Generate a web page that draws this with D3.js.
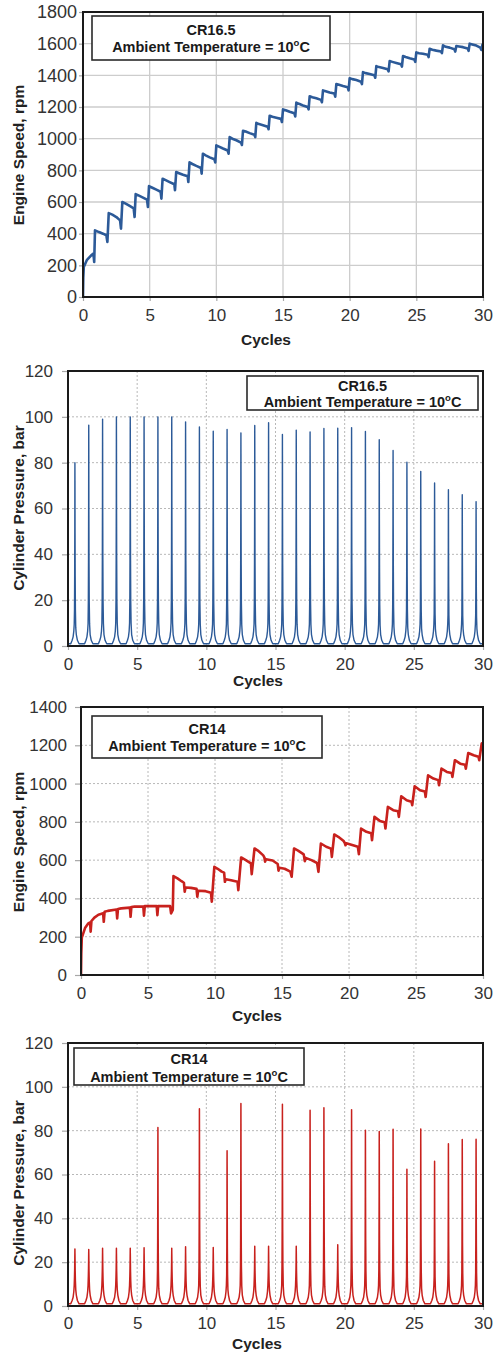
<!DOCTYPE html>
<html>
<head>
<meta charset="utf-8">
<script src="https://cdn.jsdelivr.net/npm/d3@7"></script>
<style>
  html, body { margin: 0; padding: 0; background: #fff; }
  svg { display: block; font-family: "Liberation Sans", Arial, sans-serif; }
</style>
</head>
<body>
<svg id="chart" width="500" height="1355"></svg>
<script>
// ---- tick values ----
const cycleTicks = [0, 5, 10, 15, 20, 25, 30];
const speedTicksCR165 = [0, 200, 400, 600, 800, 1000, 1200, 1400, 1600, 1800];
const speedTicksCR14 = [0, 200, 400, 600, 800, 1000, 1200, 1400];
const pressureTicks = [0, 20, 40, 60, 80, 100, 120];

// ---- engine speed during cranking / run-up, CR16.5 [cycle, rpm] ----
const speedCR165 = [
  [0,0],[0.02,120],[0.06,190],[0.3,235],[0.6,262],[0.78,274],[0.84,222],[0.9,421],
  [1.2,410],[1.5,400],[1.75,390],[1.83,347],[1.93,530],
  [2.2,520],[2.5,505],[2.78,484],[2.85,432],[2.95,600],
  [3.2,590],[3.5,575],[3.8,560],[3.87,505],[3.95,650],
  [4.2,640],[4.5,628],[4.8,615],[4.87,568],[4.95,700],
  [5.2,690],[5.5,678],[5.82,665],[5.88,621],[5.97,747],
  [6.2,738],[6.5,726],[6.85,712],[6.9,674],[6.99,789],
  [7.2,782],[7.5,772],[7.85,762],[7.9,726],[7.99,850],
  [8.2,840],[8.5,828],[8.85,815],[8.9,779],[8.99,905],
  [9.2,895],[9.5,882],[9.85,870],[9.92,850],[10.0,958],
  [10.2,950],[10.5,938],[10.85,925],[10.92,905],[11.0,1010],
  [11.2,1000],[11.5,990],[11.85,975],[11.92,960],[12.0,1050],
  [12.2,1045],[12.5,1035],[12.85,1025],[12.92,1010],[13.0,1100],
  [13.2,1092],[13.5,1085],[13.85,1075],[13.92,1060],[14.0,1145],
  [14.2,1138],[14.5,1132],[14.85,1125],[14.92,1105],[15.0,1185],
  [15.2,1180],[15.5,1170],[15.85,1160],[15.92,1140],[16.0,1228],
  [16.2,1220],[16.5,1210],[16.85,1200],[16.92,1185],[17.0,1268],
  [17.2,1262],[17.5,1255],[17.85,1245],[17.92,1230],[18.0,1305],
  [18.2,1300],[18.5,1292],[18.85,1285],[18.92,1265],[19.0,1345],
  [19.2,1340],[19.5,1332],[19.85,1325],[19.92,1305],[20.0,1382],
  [20.2,1376],[20.5,1370],[20.85,1360],[20.92,1345],[21.0,1420],
  [21.2,1414],[21.5,1408],[21.85,1400],[21.92,1385],[22.0,1458],
  [22.2,1452],[22.5,1446],[22.85,1438],[22.92,1425],[23.0,1490],
  [23.2,1485],[23.5,1478],[23.85,1470],[23.92,1455],[24.0,1522],
  [24.2,1516],[24.5,1508],[24.85,1500],[24.92,1485],[25.0,1545],
  [25.2,1540],[25.5,1536],[25.85,1530],[25.92,1515],[26.0,1568],
  [26.2,1562],[26.5,1556],[26.85,1550],[26.92,1540],[27.0,1590],
  [27.2,1580],[27.5,1575],[27.85,1565],[27.92,1550],[28.0,1585],
  [28.2,1582],[28.5,1578],[28.85,1570],[28.92,1555],[29.0,1600],
  [29.2,1595],[29.5,1588],[29.8,1575],[29.88,1560],[29.96,1595],[30.0,1590]
];

// ---- engine speed, CR14 [cycle, rpm] ----
const speedCR14 = [
  [0,0],[0.02,110],[0.06,195],[0.3,245],[0.55,270],[0.68,275],[0.72,226],[0.78,282],
  [1.0,300],[1.3,315],[1.65,322],[1.7,278],[1.76,330],
  [2.0,335],[2.65,342],[2.7,296],[2.76,345],
  [3.0,348],[3.65,352],[3.7,304],[3.76,355],
  [4.0,357],[4.65,358],[4.7,310],[4.76,360],
  [5.65,360],[5.7,313],[5.76,360],
  [6.65,360],[6.72,322],[6.85,340],[6.9,517],
  [7.2,505],[7.5,490],[7.68,482],[7.74,435],[7.8,457],
  [8.2,455],[8.62,450],[8.68,409],[8.74,440],
  [9.3,438],[9.7,430],[9.76,383],[9.95,565],
  [10.2,555],[10.5,540],[10.68,535],[10.74,487],[10.8,500],
  [11.2,495],[11.68,487],[11.74,443],[11.95,614],
  [12.3,600],[12.68,583],[12.74,527],[12.95,661],
  [13.2,650],[13.6,625],[13.68,615],[13.74,592],[13.8,605],
  [14.3,598],[14.68,580],[14.74,545],[14.8,560],
  [15.2,555],[15.62,540],[15.72,513],[15.9,661],
  [16.2,650],[16.62,630],[16.7,595],[16.76,612],
  [17.2,600],[17.62,585],[17.72,539],[17.9,687],
  [18.3,670],[18.66,660],[18.72,617],[18.9,734],
  [19.2,722],[19.6,700],[19.68,690],[19.74,678],[19.8,688],
  [20.3,678],[20.66,670],[20.74,631],[20.9,765],
  [21.3,748],[21.66,740],[21.72,704],[21.9,826],
  [22.3,805],[22.66,798],[22.72,765],[22.9,878],
  [23.3,861],[23.66,855],[23.72,826],[23.9,934],
  [24.3,913],[24.66,905],[24.72,887],[24.9,986],
  [25.3,965],[25.66,958],[25.72,930],[25.9,1043],
  [26.3,1026],[26.66,1018],[26.72,991],[26.9,1078],
  [27.3,1061],[27.66,1055],[27.72,1035],[27.9,1122],
  [28.3,1104],[28.66,1098],[28.72,1078],[28.9,1160],
  [29.3,1148],[29.66,1140],[29.72,1122],[29.9,1209],[30.0,1212]
];

// ---- peak cylinder pressure per cycle (bar), peaks at mid-cycle ----
const peakCycles = [0.5,1.5,2.5,3.5,4.5,5.5,6.5,7.5,8.5,9.5,10.5,11.5,12.5,13.5,14.5,
                    15.5,16.5,17.5,18.5,19.5,20.5,21.5,22.5,23.5,24.5,25.5,26.5,27.5,28.5,29.5];
const peakPressureCR165 = [80,96.4,99,100,100,100,100,100,97.8,95.6,93.7,94.5,93,96.2,97.4,
                           92.3,94.2,93.4,94.9,95,95.3,93.6,90,85.3,80.2,76.2,71.1,68.2,66,63];
const peakPressureCR14 = [26,25.8,26.3,26.3,26.3,26.6,81.4,26.4,27,90,26.7,70.8,92.4,27.3,27.3,
                          92,27.3,89.3,90.5,28,89.6,80.2,79.6,80.7,62.4,80.8,66,74,76,76.1];
const basePressure = 1;   // bar, between compression strokes

// one pressure trace around its peak:
// [cycle offset, fraction of peak, compression-only pressure (bar)]
const pulseShape = [
  [-0.30,0,1],[-0.20,0.01,2.5],[-0.13,0.025,4],[-0.08,0.05,6.5],[-0.05,0.1,9.5],
  [-0.03,0.2,13.5],[-0.018,0.38,17],[-0.008,0.65,21.5],[-0.003,0.93,24.5],[0,1,25.5],
  [0.004,0.9,24],[0.01,0.62,21],[0.02,0.38,16],[0.035,0.2,11.5],[0.06,0.1,7.5],
  [0.10,0.045,5],[0.18,0.015,2.5],[0.30,0,1]
];

const BLUE = "#2c5a98";
const RED = "#c8211d";

const svg = d3.select("#chart");

function pressureTrace(peaks) {
  const pts = [[0, basePressure]];
  peaks.forEach((p, i) => {
    pulseShape.forEach(([dc, f, comp]) => {
      pts.push([peakCycles[i] + dc, Math.max(basePressure, p * f, Math.min(comp, p))]);
    });
  });
  pts.push([30, basePressure]);
  return pts.filter(d => d[0] >= 0 && d[0] <= 30);
}

function drawPanel(o) {
  const g = svg.append("g");
  const x = d3.scaleLinear().domain([0, 30]).range([o.left, o.right]);
  const y = d3.scaleLinear().domain(o.yDomain).range([o.bottom, o.top]);
  const gridColor = o.dotted ? "#b8b8b8" : "#cdcdcd";

  // gridlines
  const grid = g.append("g")
    .attr("stroke", gridColor)
    .attr("stroke-width", o.dotted ? 1 : 1.3)
    .attr("stroke-dasharray", o.dotted ? "2,2" : null);
  grid.selectAll("line.h").data(o.yTicks.slice(1, -1)).join("line")
    .attr("x1", o.left).attr("x2", o.right)
    .attr("y1", d => y(d)).attr("y2", d => y(d));
  grid.selectAll("line.v").data(cycleTicks.slice(1, -1)).join("line")
    .attr("y1", o.top).attr("y2", o.bottom)
    .attr("x1", d => x(d)).attr("x2", d => x(d));

  // axes (tick marks + labels)
  const ya = g.append("g").attr("transform", `translate(${o.left},0)`)
    .call(d3.axisLeft(y).tickValues(o.yTicks).tickFormat(d3.format("d"))
      .tickSize(o.yTickSize).tickPadding(o.yPad));
  const xa = g.append("g").attr("transform", `translate(0,${o.bottom})`)
    .call(d3.axisBottom(x).tickValues(cycleTicks).tickFormat(d3.format("d"))
      .tickSize(4).tickPadding(o.xPad));
  [ya, xa].forEach(a => {
    a.select(".domain").remove();
    a.selectAll(".tick line").attr("stroke", "#a8a8a8").attr("stroke-width", 1.2);
    a.selectAll(".tick text").attr("fill", "#333").attr("font-size", 17)
      .attr("font-family", "'Liberation Sans', Arial, sans-serif");
  });
  ya.selectAll(".tick text").attr("font-size", o.yTickFont);

  // data line
  const clipId = "clip" + o.id;
  svg.append("clipPath").attr("id", clipId).append("rect")
    .attr("x", o.left).attr("y", o.top - 2)
    .attr("width", o.right - o.left + 2).attr("height", o.bottom - o.top + 2);
  const line = d3.line().x(d => x(d[0])).y(d => y(d[1]));
  g.append("path").datum(o.data)
    .attr("clip-path", `url(#${clipId})`)
    .attr("fill", "none").attr("stroke", o.color)
    .attr("stroke-width", o.lineWidth)
    .attr("stroke-linejoin", "round")
    .attr("d", line);

  // frame
  g.append("rect").attr("x", o.left).attr("y", o.top)
    .attr("width", o.right - o.left).attr("height", o.bottom - o.top)
    .attr("fill", "none").attr("stroke", "#1a1a1a").attr("stroke-width", 2);

  // legend box
  const L = o.legend;
  g.append("rect").attr("x", L.x).attr("y", L.y).attr("width", L.w).attr("height", L.h)
    .attr("fill", "#fff").attr("stroke", "#2a2a2a").attr("stroke-width", 1.6);
  const cx = L.x + L.w / 2;
  g.append("text").attr("x", cx).attr("y", L.l1).attr("text-anchor", "middle")
    .attr("dominant-baseline", "central")
    .attr("font-weight", "bold").attr("font-size", 14.5).attr("fill", "#1a1a1a")
    .text(o.cr);
  const t2 = g.append("text").attr("x", cx).attr("y", L.l2).attr("text-anchor", "middle")
    .attr("dominant-baseline", "central")
    .attr("font-weight", "bold").attr("font-size", 14.5).attr("fill", "#1a1a1a");
  t2.append("tspan").text("Ambient Temperature = 10");
  t2.append("tspan").attr("dy", -5).attr("font-size", 9.5).text("o");
  t2.append("tspan").attr("dy", 5).text("C");

  // axis titles
  g.append("text").attr("x", o.cyclesX).attr("y", o.cyclesY)
    .attr("text-anchor", "middle").attr("dominant-baseline", "central")
    .attr("font-weight", "bold").attr("font-size", 15.5).attr("fill", "#222")
    .text("Cycles");
  g.append("text")
    .attr("transform", `translate(18,${o.yTitleY}) rotate(-90)`)
    .attr("text-anchor", "middle").attr("dominant-baseline", "central")
    .attr("font-weight", "bold").attr("font-size", 15.5).attr("fill", "#222")
    .text(o.yTitle);
}

drawPanel({
  id: 1, left: 83, right: 483, top: 12, bottom: 297,
  yDomain: [0, 1800], yTicks: speedTicksCR165, dotted: false,
  yTickSize: 4, yPad: 2, xPad: 8, yTickFont: 18,
  data: speedCR165, color: BLUE, lineWidth: 2.6,
  legend: { x: 92, y: 16, w: 238, h: 44, l1: 30, l2: 47 }, cr: "CR16.5",
  cyclesX: 266, cyclesY: 339, yTitle: "Engine Speed, rpm", yTitleY: 155
});

drawPanel({
  id: 2, left: 68, right: 483, top: 371, bottom: 646,
  yDomain: [0, 120], yTicks: pressureTicks, dotted: true,
  yTickSize: 6, yPad: 9, xPad: 8, yTickFont: 17,
  data: pressureTrace(peakPressureCR165), color: BLUE, lineWidth: 1.4,
  legend: { x: 247, y: 376, w: 231, h: 34, l1: 386, l2: 402 }, cr: "CR16.5",
  cyclesX: 258, cyclesY: 680, yTitle: "Cylinder Pressure, bar", yTitleY: 508
});

drawPanel({
  id: 3, left: 81, right: 483, top: 707, bottom: 975,
  yDomain: [0, 1400], yTicks: speedTicksCR14, dotted: true,
  yTickSize: 6, yPad: 8, xPad: 8, yTickFont: 17,
  data: speedCR14, color: RED, lineWidth: 2.6,
  legend: { x: 92, y: 716, w: 230, h: 42, l1: 729, l2: 746 }, cr: "CR14",
  cyclesX: 257, cyclesY: 1015, yTitle: "Engine Speed, rpm", yTitleY: 842
});

drawPanel({
  id: 4, left: 68, right: 483, top: 1043, bottom: 1306,
  yDomain: [0, 120], yTicks: pressureTicks, dotted: true,
  yTickSize: 6, yPad: 9, xPad: 7, yTickFont: 17,
  data: pressureTrace(peakPressureCR14), color: RED, lineWidth: 1.5,
  legend: { x: 74, y: 1048, w: 230, h: 37, l1: 1059, l2: 1077 }, cr: "CR14",
  cyclesX: 257, cyclesY: 1343, yTitle: "Cylinder Pressure, bar", yTitleY: 1183
});
</script>
</body>
</html>
